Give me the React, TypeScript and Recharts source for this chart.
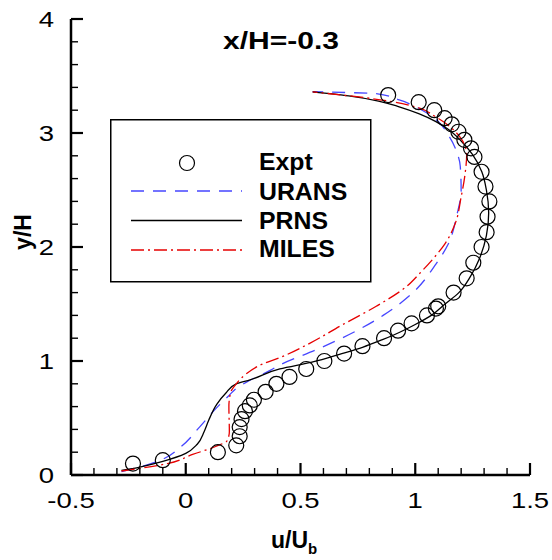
import { ScatterChart, Scatter, XAxis, YAxis, Legend, Label } from "recharts";

// experimental profile (circles)
const exptU = [-0.23, -0.1, 0.14, 0.22, 0.235, 0.235, 0.243, 0.258, 0.279, 0.297, 0.348, 0.395, 0.452, 0.525, 0.604, 0.69, 0.77, 0.864, 0.925, 0.984, 1.051, 1.09, 1.1, 1.167, 1.224, 1.253, 1.289, 1.311, 1.315, 1.323, 1.306, 1.289, 1.258, 1.243, 1.214, 1.188, 1.159, 1.128, 1.083, 1.015, 0.882];
const exptY = [0.1, 0.13, 0.2, 0.26, 0.34, 0.42, 0.49, 0.56, 0.61, 0.66, 0.73, 0.8, 0.86, 0.93, 1.0, 1.065, 1.13, 1.2, 1.266, 1.33, 1.4, 1.46, 1.48, 1.6, 1.725, 1.862, 2.0, 2.13, 2.266, 2.4, 2.53, 2.66, 2.79, 2.866, 2.94, 3.011, 3.076, 3.13, 3.2, 3.27, 3.333];

const uransU = [-0.28, -0.2, -0.11, -0.02, 0.06, 0.13, 0.19, 0.22, 0.27, 0.37, 0.41, 0.57, 0.71, 0.86, 0.99, 1.09, 1.145, 1.18, 1.2, 1.196, 1.18, 1.145, 1.1, 1.03, 0.93, 0.83, 0.7, 0.553];
const uransY = [0.03, 0.07, 0.13, 0.25, 0.42, 0.58, 0.7, 0.76, 0.82, 0.92, 0.965, 1.1, 1.23, 1.4, 1.6, 1.85, 2.03, 2.27, 2.5, 2.71, 2.84, 2.98, 3.1, 3.2, 3.29, 3.345, 3.355, 3.362];

const prnsU = [-0.28, -0.2, -0.1, 0.0, 0.05, 0.08, 0.1, 0.135, 0.175, 0.22, 0.28, 0.41, 0.55, 0.68, 0.77, 0.86, 0.93, 1.0, 1.07, 1.13, 1.19, 1.24, 1.28, 1.31, 1.32, 1.31, 1.29, 1.25, 1.2, 1.145, 1.09, 1.015, 0.93, 0.84, 0.71, 0.553];
const prnsY = [0.04, 0.07, 0.12, 0.19, 0.27, 0.38, 0.48, 0.62, 0.72, 0.8, 0.835, 0.93, 0.99, 1.065, 1.12, 1.19, 1.25, 1.32, 1.4, 1.5, 1.6, 1.74, 1.9, 2.1, 2.3, 2.5, 2.66, 2.81, 2.93, 3.03, 3.1, 3.17, 3.23, 3.28, 3.325, 3.36];

const milesU = [-0.28, -0.08, 0.03, 0.13, 0.18, 0.19, 0.188, 0.195, 0.22, 0.265, 0.33, 0.41, 0.54, 0.68, 0.83, 0.96, 1.02, 1.075, 1.13, 1.175, 1.2, 1.217, 1.224, 1.2, 1.16, 1.09, 1.0, 0.9, 0.78, 0.553];
const milesY = [0.035, 0.1, 0.18, 0.25, 0.3, 0.38, 0.6, 0.72, 0.8, 0.89, 0.97, 1.03, 1.155, 1.315, 1.48, 1.65, 1.77, 1.89, 2.03, 2.21, 2.44, 2.64, 2.81, 2.95, 3.04, 3.14, 3.23, 3.275, 3.31, 3.36];

const xTicks = Array.from({ length: 21 }, (_, i) => Math.round((-0.5 + i * 0.1) * 10) / 10);
const yTicks = Array.from({ length: 21 }, (_, i) => Math.round(i * 0.2 * 10) / 10);

const toPoints = (us: number[], ys: number[]) => us.map((u, i) => ({ u, y: ys[i] }));

const FONT = "'Liberation Sans', Arial, Helvetica, sans-serif";

const lines = [
  { name: "URANS", u: uransU, y: uransY, stroke: "#4646ff", dash: "13 9" },
  { name: "PRNS", u: prnsU, y: prnsY, stroke: "#000000", dash: undefined },
  { name: "MILES", u: milesU, y: milesY, stroke: "#e60000", dash: "13 4 2 4" },
];

const isMajor = (v: number, step: number) => Math.abs(v / step - Math.round(v / step)) < 1e-6;

const XTick = (props: any) => {
  const { x, y, payload } = props;
  const v = payload.value;
  const major = isMajor(v, 0.5);
  return (
    <g>
      <line x1={x} x2={x} y1={y} y2={y - (major ? 12 : 7)} stroke="#000" strokeWidth={major ? 2.2 : 1.4} />
      {major && (
        <text transform={`translate(${x},${y + 33}) scale(1.25,1)`} textAnchor="middle" fontSize={22} fontFamily={FONT} fill="#000">
          {v}
        </text>
      )}
    </g>
  );
};

const YTick = (props: any) => {
  const { x, y, payload } = props;
  const v = payload.value;
  const major = isMajor(v, 1);
  return (
    <g>
      <line x1={x} x2={x + (major ? 12 : 7)} y1={y} y2={y} stroke="#000" strokeWidth={major ? 2.2 : 1.4} />
      {major && (
        <text transform={`translate(${x - 17},${y + 8}) scale(1.25,1)`} textAnchor="end" fontSize={22} fontFamily={FONT} fill="#000">
          {v}
        </text>
      )}
    </g>
  );
};

const Circle = (props: any) => (
  <circle cx={props.cx} cy={props.cy} r={7.5} fill="none" stroke="#000" strokeWidth={1.2} />
);

const NoMark = () => <g />;

const LegendBox = () => (
  <svg width={262} height={164}>
    <rect x={0.75} y={0.75} width={260} height={162} fill="#fff" stroke="#000" strokeWidth={1.5} />
    <circle cx={77} cy={44} r={7.5} fill="none" stroke="#000" strokeWidth={1.2} />
    <text transform="translate(149,51) scale(1.08,1)" fontSize={23} fontWeight="bold" fontFamily={FONT}>Expt</text>
    {lines.map((s, i) => (
      <g key={s.name}>
        <line x1={21} x2={132} y1={72 + i * 29.5} y2={72 + i * 29.5} stroke={s.stroke} strokeWidth={1.3} strokeDasharray={s.dash} />
        <text transform={`translate(149,${81 + i * 28.5}) scale(1.08,1)`} fontSize={23} fontWeight="bold" fontFamily={FONT}>
          {s.name}
        </text>
      </g>
    ))}
  </svg>
);

export default function App() {
  return (
    <div style={{ position: "absolute", left: 0, top: 0, width: 552, height: 560, background: "#fff" }}>
      <ScatterChart width={552} height={560} margin={{ top: 19, right: 22, bottom: 0, left: 0 }}>
        <XAxis
          type="number"
          dataKey="u"
          domain={[-0.5, 1.5]}
          ticks={xTicks}
          interval={0}
          height={85}
          tickSize={0}
          tickMargin={0}
          tickLine={false}
          tick={<XTick />}
          axisLine={{ stroke: "#000", strokeWidth: 2.5 }}
          allowDataOverflow
        >
          <Label
            content={() => (
              <text x={271} y={548} fontSize={23} fontWeight="bold" fontFamily={FONT} fill="#000">
                u/U<tspan fontSize={15} dy={6}>b</tspan>
              </text>
            )}
          />
        </XAxis>
        <YAxis
          type="number"
          dataKey="y"
          domain={[0, 4]}
          ticks={yTicks}
          interval={0}
          width={71}
          tickSize={0}
          tickMargin={0}
          tickLine={false}
          tick={<YTick />}
          axisLine={{ stroke: "#000", strokeWidth: 2.5 }}
          allowDataOverflow
        >
          <Label
            content={() => (
              <text transform="translate(31,232) rotate(-90)" textAnchor="middle" fontSize={23} fontWeight="bold" fontFamily={FONT} fill="#000">
                y/H
              </text>
            )}
          />
        </YAxis>
        <Legend
          layout="horizontal"
          verticalAlign="middle"
          align="center"
          content={<LegendBox />}
          wrapperStyle={{ left: 110, top: 119, width: 262, height: 164 }}
        />
        {lines.map((s) => (
          <Scatter
            key={s.name}
            name={s.name}
            data={toPoints(s.u, s.y)}
            line={{ stroke: s.stroke, strokeWidth: 1.3, strokeDasharray: s.dash }}
            lineType="joint"
            lineJointType="monotoneY"
            shape={<NoMark />}
            isAnimationActive={false}
          />
        ))}
        <Scatter name="Expt" data={toPoints(exptU, exptY)} shape={<Circle />} isAnimationActive={false} />
        <text x={223} y={49} fontSize={23} fontWeight="bold" fontFamily={FONT} fill="#000" textLength={116} lengthAdjust="spacingAndGlyphs">
          x/H=-0.3
        </text>
      </ScatterChart>
    </div>
  );
}
